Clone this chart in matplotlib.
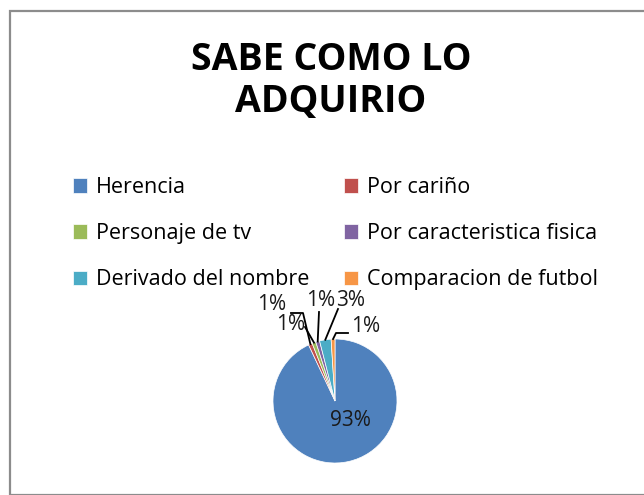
import matplotlib
matplotlib.use("Agg")
import matplotlib.pyplot as plt
from matplotlib.patches import Rectangle
import numpy as np

plt.rcParams['font.family'] = ['Open Sans', 'DejaVu Sans']

# datos
categorias = ["Herencia", "Por cariño", "Personaje de tv",
              "Por caracteristica fisica", "Derivado del nombre",
              "Comparacion de futbol"]
valores = [93, 1, 1, 1, 3, 1]
colores = ["#4F81BD", "#C0504D", "#9BBB59", "#8064A2", "#4BACC6", "#F79646"]
titulo = "SABE COMO LO\nADQUIRIO"

W, H = 644, 495
fig = plt.figure(figsize=(W / 100, H / 100), dpi=100)
fig.patch.set_facecolor("white")

# marco gris del grafico
fig.patches.append(Rectangle((10 / W, 0), 1.0, 1 - 11 / H, transform=fig.transFigure,
                             fill=False, edgecolor="#8c8c8c", linewidth=1.6))

ax = fig.add_axes([0, 0, 1, 1])
cx, cy, r = 335, H - 401, 62
wedges, _ = ax.pie(valores, colors=colores, startangle=90, counterclock=False,
                   center=(cx, cy), radius=r,
                   wedgeprops=dict(linewidth=0.5, edgecolor="white"))
ax.set_xlim(0, W)
ax.set_ylim(0, H)
ax.set_aspect("equal")
ax.axis("off")

# etiquetas de porcentaje (posicion del texto y codo de la linea guia, en pixeles)
pos_texto = [(350, 420), (272, 305), (291, 324), (321, 300), (351, 300), (366, 326)]
codo = [None, [(291, 313), (303, 313)], [(305, 327)], [(319, 312)],
        [(338, 309)], [(348, 333), (336, 333)]]
total = sum(valores)
for i, w in enumerate(wedges):
    pct = "%d%%" % round(100 * valores[i] / total)
    tx, ty = pos_texto[i]
    ax.text(tx, H - ty, pct, ha="center", va="center", fontsize=15, color="#1a1a1a")
    if codo[i] is None:
        continue
    ang = np.deg2rad((w.theta1 + w.theta2) / 2)
    ex, ey = cx + r * np.cos(ang), cy + r * np.sin(ang)
    pts = [(px, H - py) for px, py in codo[i]] + [(ex, ey)]
    ax.plot([p[0] for p in pts], [p[1] for p in pts], color="black", lw=1.3)

fig.text(331 / W, 1 - 81 / H, titulo, ha="center", va="center",
         fontsize=27, fontweight="bold", linespacing=1.12)

# leyenda en dos columnas
estilo = dict(loc="upper left", frameon=False, fontsize=15.5, handlelength=0.65,
              handleheight=0.65, handletextpad=0.42, labelspacing=1.17,
              borderpad=0, borderaxespad=0)
ley1 = fig.legend([wedges[i] for i in (0, 2, 4)], [categorias[i] for i in (0, 2, 4)],
                  bbox_to_anchor=(73 / W, 1 - 177 / H), **estilo)
ley2 = fig.legend([wedges[i] for i in (1, 3, 5)], [categorias[i] for i in (1, 3, 5)],
                  bbox_to_anchor=(344 / W, 1 - 177 / H), **estilo)

fig.savefig("out.png", dpi=100)
